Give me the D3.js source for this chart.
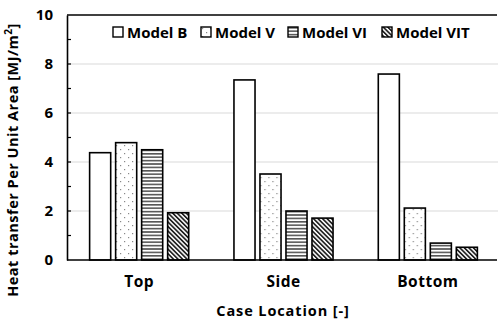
<!DOCTYPE html>
<html>
<head>
<meta charset="utf-8">
<script src="https://cdn.jsdelivr.net/npm/d3@7"></script>
<style>
  html, body { margin: 0; padding: 0; background: #fff; }
  svg text { font-family: "Open Sans", "Noto Sans", sans-serif; font-weight: 700; fill: #000; }
</style>
</head>
<body>
<svg id="chart" width="498" height="321"></svg>
<script>
// Heat transfer per unit area by case location and model
const categories = ["Top", "Side", "Bottom"];
const seriesNames = ["Model B", "Model V", "Model VI", "Model VIT"];
const modelB   = [4.38, 7.35, 7.59];
const modelV   = [4.79, 3.51, 2.12];
const modelVI  = [4.50, 2.00, 0.69];
const modelVIT = [1.93, 1.71, 0.52];
const yTicks = [0, 2, 4, 6, 8, 10];
const yMinorTicks = [1, 3, 5, 7, 9];

const seriesValues = [modelB, modelV, modelVI, modelVIT];
const fills = ["#fff", "url(#dots)", "url(#hstripes)", "url(#diag)"];

const svg = d3.select("#chart");
const m = { left: 67, right: 498, top: 15, bottom: 260 };

// patterns
const defs = svg.append("defs");
const dots = defs.append("pattern").attr("id", "dots").attr("patternUnits", "userSpaceOnUse")
  .attr("width", 8).attr("height", 8);
dots.append("rect").attr("width", 8).attr("height", 8).attr("fill", "#fff");
dots.append("rect").attr("x", 1).attr("y", 1).attr("width", 1.2).attr("height", 1.2).attr("fill", "#888");
dots.append("rect").attr("x", 5).attr("y", 5).attr("width", 1.2).attr("height", 1.2).attr("fill", "#888");

const hs = defs.append("pattern").attr("id", "hstripes").attr("patternUnits", "userSpaceOnUse")
  .attr("width", 4).attr("height", 3.4);
hs.append("rect").attr("width", 4).attr("height", 3.4).attr("fill", "#fff");
hs.append("rect").attr("y", 0).attr("width", 4).attr("height", 1.6).attr("fill", "#555");

const dg = defs.append("pattern").attr("id", "diag").attr("patternUnits", "userSpaceOnUse")
  .attr("width", 3.2).attr("height", 3.2).attr("patternTransform", "rotate(-45)");
dg.append("rect").attr("width", 3.2).attr("height", 3.2).attr("fill", "#fff");
dg.append("rect").attr("x", 0).attr("width", 1.7).attr("height", 3.2).attr("fill", "#222");

const x0 = d3.scaleBand().domain(categories).range([m.left, m.right + 2]).paddingInner(0).paddingOuter(0);
const x1 = d3.scaleBand().domain(seriesNames).range([0, x0.bandwidth()]).paddingInner(0.19).paddingOuter(0.87);
const y = d3.scaleLinear().domain([0, 10]).range([m.bottom, m.top]);

// gridlines
svg.append("g").selectAll("line").data(yTicks.filter(d => d > 0 && d < 10)).join("line")
  .attr("x1", m.left).attr("x2", m.right)
  .attr("y1", d => y(d)).attr("y2", d => y(d))
  .attr("stroke", "#d9d9d9").attr("stroke-width", 1);

// bars
const groups = svg.append("g").selectAll("g").data(categories).join("g")
  .attr("transform", c => `translate(${x0(c)},0)`);
groups.selectAll("rect")
  .data((c, ci) => seriesNames.map((s, si) => ({ s, si, v: seriesValues[si][ci] })))
  .join("rect")
  .attr("x", d => x1(d.s))
  .attr("y", d => y(d.v))
  .attr("width", x1.bandwidth())
  .attr("height", d => y(0) - y(d.v))
  .attr("fill", d => fills[d.si])
  .attr("stroke", "#000").attr("stroke-width", 1.6);

// top border
svg.append("line").attr("x1", m.left).attr("x2", m.right - 1)
  .attr("y1", m.top).attr("y2", m.top).attr("stroke", "#000").attr("stroke-width", 1.6);

// y axis
const yAxis = d3.axisLeft(y).tickValues(yTicks).tickSize(0).tickPadding(14).tickFormat(d3.format("d"));
const yg = svg.append("g").attr("transform", `translate(${m.left},0)`).call(yAxis);
yg.select(".domain").attr("stroke", "#000").attr("stroke-width", 1.6);
yg.selectAll("text").style("font-size", "15px");
// inward tick marks
svg.append("g").selectAll("line").data(yTicks.concat(yMinorTicks).filter(d => d > 0 && d < 10)).join("line")
  .attr("x1", m.left).attr("x2", m.left + 4)
  .attr("y1", d => y(d)).attr("y2", d => y(d))
  .attr("stroke", "#000").attr("stroke-width", 1.2);

// x axis
const xAxis = d3.axisBottom(x0).tickSize(0).tickPadding(16);
const xg = svg.append("g").attr("transform", `translate(0,${m.bottom})`).call(xAxis);
xg.select(".domain").attr("d", `M${m.left},0H${m.right - 1}`).attr("stroke", "#000").attr("stroke-width", 1.6);
xg.selectAll("text").style("font-size", "15.5px").style("letter-spacing", "0.5px");

// axis titles
svg.append("text").attr("x", 283).attr("y", 316).attr("text-anchor", "middle")
  .style("font-size", "14.5px").style("letter-spacing", "0.9px").text("Case Location [-]");
const yt = svg.append("text").attr("transform", "translate(18,160) rotate(-90)")
  .attr("text-anchor", "middle").style("font-size", "14.5px").style("letter-spacing", "0.5px");
yt.append("tspan").text("Heat transfer Per Unit Area [MJ/m");
yt.append("tspan").attr("dy", -6).style("font-size", "10px").text("2");
yt.append("tspan").attr("dy", 6).text("]");

// legend
const legendX = [113, 201, 288, 382];
const lg = svg.append("g").selectAll("g").data(seriesNames).join("g")
  .attr("transform", (d, i) => `translate(${legendX[i]},27)`);
lg.append("rect").attr("width", 10).attr("height", 10)
  .attr("fill", (d, i) => fills[i]).attr("stroke", "#000").attr("stroke-width", 1.4);
lg.append("text").attr("x", 14).attr("y", 10.5).style("font-size", "15px").text(d => d);
</script>
</body>
</html>
